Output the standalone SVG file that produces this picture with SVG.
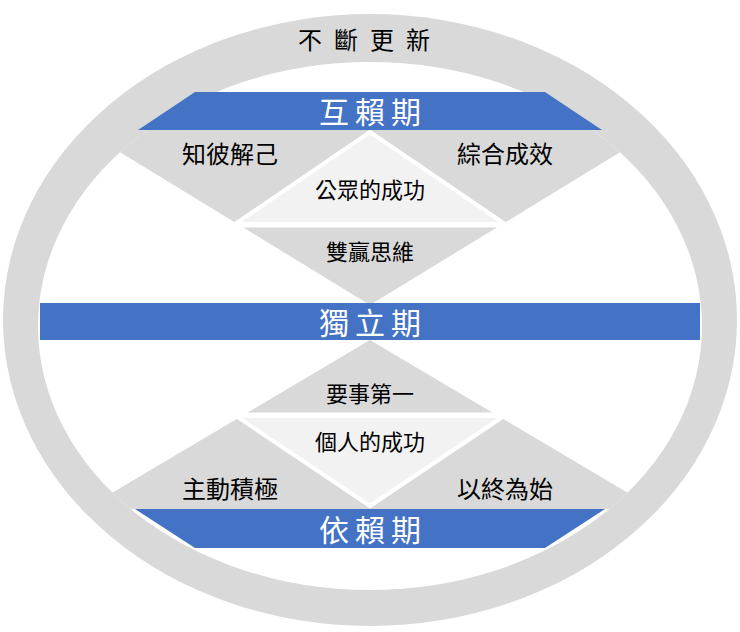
<svg xmlns="http://www.w3.org/2000/svg" width="740" height="632" viewBox="0 0 740 632">
<style>
text{font-family:"Noto Sans CJK TC","Noto Sans CJK SC",sans-serif;text-anchor:middle;dominant-baseline:central}
.b{fill:#4472c4}.g{fill:#d9d9d9}.l{fill:#f2f2f2;stroke:#fff;stroke-width:4}
.w{fill:#fff;font-size:30px;letter-spacing:6px}.k{fill:#000;font-size:24px}.s{fill:#000;font-size:22px}
</style>
<defs><clipPath id="in"><ellipse cx="370" cy="326" rx="332" ry="264"/></clipPath></defs>
<g id="ring"><ellipse cx="370" cy="320" rx="367" ry="306" fill="#d9d9d9"/><ellipse cx="370" cy="326" rx="332" ry="264" fill="#fff"/>
<text x="370" y="38" class="k" style="letter-spacing:12px">不斷更新</text></g>
<g clip-path="url(#in)">
<g id="upper"><polygon class="g" points="370,305 100,140 100,130 640,130 640,140"/>
<polygon class="l" points="370,132 505,224 235,224"/>
<line x1="200" y1="226" x2="540" y2="226" stroke="#fff" stroke-width="3"/>
<text x="230" y="152" class="k">知彼解己</text><text x="505" y="152" class="k">綜合成效</text>
<text x="370" y="188" class="s">公眾的成功</text><text x="370" y="250" class="s">雙贏思維</text></g>
<g id="lower"><polygon class="g" points="370,340 100,500 100,509 640,509 640,500"/>
<polygon class="l" points="236,416 504,416 370,506"/>
<line x1="200" y1="414" x2="540" y2="414" stroke="#fff" stroke-width="3"/>
<text x="370" y="392" class="s">要事第一</text><text x="370" y="440" class="s">個人的成功</text>
<text x="230" y="487" class="k">主動積極</text><text x="505" y="487" class="k">以終為始</text></g>
</g>
<g id="p1"><polygon class="b" points="195,92 545,92 602,130 138,130"/><text x="373" y="110" class="w">互賴期</text></g>
<g id="p2"><rect class="b" x="40" y="303" width="660" height="37"/><text x="373" y="321" class="w">獨立期</text></g>
<g id="p3"><polygon class="b" points="135,509 605,509 545,548 195,548"/><text x="373" y="528" class="w">依賴期</text></g>
</svg>
